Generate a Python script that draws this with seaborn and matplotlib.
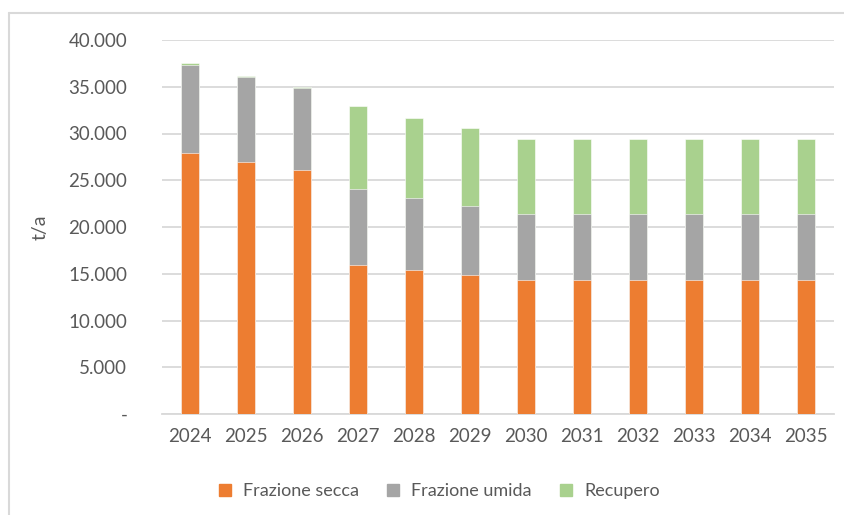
import matplotlib
matplotlib.use('Agg')
import matplotlib.pyplot as plt
from matplotlib.lines import Line2D
import seaborn as sns
import pandas as pd

anni = ['2024', '2025', '2026', '2027', '2028', '2029',
        '2030', '2031', '2032', '2033', '2034', '2035']
frazione_secca = [27900, 27000, 26100, 15950, 15450, 14850,
                  14300, 14300, 14300, 14300, 14300, 14300]
frazione_umida = [9460, 9040, 8770, 8090, 7630, 7350,
                  7100, 7100, 7100, 7100, 7100, 7100]
recupero = [150, 150, 100, 8860, 8580, 8400,
            7980, 7980, 7980, 7980, 7980, 7980]
serie = ['Frazione secca', 'Frazione umida', 'Recupero']
colori = ['#ED7D31', '#A5A5A5', '#A9D18E']
testo = '#595959'

df = pd.DataFrame({'Anno': anni, 'secca': frazione_secca,
                   'umida': frazione_umida, 'recupero': recupero})
df['top_secca'] = df['secca']
df['top_umida'] = df['secca'] + df['umida']
df['top_recupero'] = df['top_umida'] + df['recupero']

sns.set_style('white')
plt.rcParams['font.family'] = ['Lato', 'DejaVu Sans']

fig = plt.figure(figsize=(8.45, 5.15), dpi=100)
ax = fig.add_axes([162 / 845, 1 - 414 / 515, 672 / 845, 374 / 515])

# stacked bars: draw cumulative totals from the top down
for col, c in zip(['top_recupero', 'top_umida', 'top_secca'], colori[::-1]):
    sns.barplot(data=df, x='Anno', y=col, color=c, width=0.32, ax=ax,
                saturation=1, edgecolor='white', linewidth=0.4, zorder=3)

ax.set_xlim(-0.5, 11.5)
ax.set_ylim(0, 40000)
ax.set_yticks(range(0, 40001, 5000))
ax.yaxis.set_major_formatter(matplotlib.ticker.FuncFormatter(
    lambda y, _: '-' if y == 0 else f'{int(y):,}'.replace(',', '.')))
ax.grid(axis='y', color='#D9D9D9', linewidth=1.3, zorder=0)
ax.set_axisbelow(True)
for s in ['top', 'right', 'left']:
    ax.spines[s].set_visible(False)
ax.spines['bottom'].set_color('#D9D9D9')
ax.spines['bottom'].set_linewidth(1.3)
ax.tick_params(axis='both', length=0, labelsize=13.5, labelcolor=testo)
ax.tick_params(axis='y', pad=25)
ax.tick_params(axis='x', pad=10)
ax.set_xlabel('')
ax.set_ylabel('t/a', fontsize=14, color=testo, labelpad=14)

handles = [Line2D([], [], marker='s', linestyle='', markersize=9,
                  markerfacecolor=c, markeredgecolor=c) for c in colori]
fig.legend(handles, serie, loc='center', bbox_to_anchor=(0.513, 1 - 491 / 515),
           ncol=3, frameon=False, fontsize=13, labelcolor=testo,
           handletextpad=0.0, columnspacing=0.9)

# chart area border (left and top edges visible)
fig.add_artist(Line2D([9 / 845, 9 / 845], [0, 1 - 13 / 515],
                      transform=fig.transFigure, color='#D9D9D9', linewidth=1.5))
fig.add_artist(Line2D([9 / 845, 1], [1 - 13 / 515, 1 - 13 / 515],
                      transform=fig.transFigure, color='#D9D9D9', linewidth=1.5))

fig.savefig('out.png', dpi=100)
